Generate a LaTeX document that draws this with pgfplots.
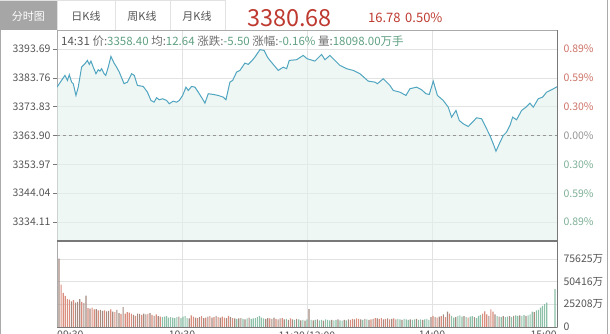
\documentclass[border=0pt]{standalone}
\usepackage{fontspec}
\setmainfont{Noto Sans CJK SC}
\usepackage{pgfplots}
\pgfplotsset{compat=1.18}
\usepackage{pgfplotstable}
\definecolor{pline}{RGB}{80,165,192}
\definecolor{pfill}{RGB}{228,241,236}
\definecolor{gridc}{RGB}{226,226,226}
\definecolor{axc}{RGB}{170,170,170}
\definecolor{axd}{RGB}{120,120,120}
\definecolor{upc}{RGB}{205,115,105}
\definecolor{dnc}{RGB}{125,175,150}
\definecolor{zc}{RGB}{150,150,150}
\definecolor{lab}{RGB}{85,85,85}
\definecolor{vred}{RGB}{218,140,125}
\definecolor{vgreen}{RGB}{140,192,168}
\definecolor{vbrown}{RGB}{165,138,128}
\definecolor{bigred}{RGB}{190,58,48}
\definecolor{tabg}{RGB}{166,166,166}
\definecolor{infog}{RGB}{110,110,110}
\definecolor{infov}{RGB}{95,160,130}

\pgfplotstableread{
m p
0 3380.55
3.8 3384.59
5 3382.86
5.9 3384.83
7 3382.28
7.8 3381.73
9.1 3377.69
10.2 3380.55
11.8 3387.45
13.4 3388.62
14.6 3389.76
15.5 3388.38
16.3 3389.52
17.4 3387.45
18.7 3385.17
19.8 3386.55
20.6 3386.07
21.4 3386.90
22.6 3385.17
23.4 3384.59
24.6 3387.45
25.9 3391.14
27.4 3388.83
28.6 3387.45
29.9 3385.73
32.2 3381.73
33.8 3382.28
35.8 3385.17
37.1 3384.59
38.6 3381.14
41.4 3380.80
43.4 3378.83
45.1 3375.97
46.6 3375.38
47.8 3376.90
49.1 3376.21
50.7 3376.55
52.6 3375.97
53.9 3374.83
55.8 3375.73
57.4 3375.38
58.7 3375.97
60.3 3377.69
61.9 3380.55
63 3379.41
64.6 3380.80
66.2 3380.55
67.8 3378.83
69.8 3376.55
71 3375.04
72.6 3378.28
75 3378.04
77.4 3377.69
79.8 3377.11
81.1 3376.21
83 3382.28
84.3 3382.86
86.2 3385.73
87.8 3386.31
90.2 3388.83
91.8 3388.38
93.4 3389.52
95 3390.90
97.4 3393.45
99.4 3393.21
101 3390.90
102.2 3389.76
104.6 3387.69
106.2 3386.31
108.6 3387.45
110.2 3386.90
111.5 3389.76
115 3390.00
118.2 3391.48
120 3390.35
123.8 3389.52
127 3391.83
128.6 3390.00
131 3391.48
133.4 3389.76
135.8 3388.04
139 3386.90
142.2 3386.31
145.4 3385.17
149.4 3382.62
152.6 3382.28
153.8 3381.73
156.6 3383.45
159.8 3381.14
161.4 3379.41
164.6 3378.83
167.5 3377.69
169.4 3380.00
172.6 3380.55
175 3379.66
177.1 3378.28
178.7 3378.04
180.6 3382.62
182.6 3377.69
185.4 3375.97
187.8 3373.66
189.4 3370.21
191.5 3372.52
193.1 3369.07
195 3367.93
197.4 3367.00
200.2 3369.07
201.4 3370.00
203.8 3369.66
206.2 3366.21
207.8 3363.90
209.4 3361.04
210.7 3358.49
212.3 3361.04
214.2 3363.90
215.8 3365.04
217.4 3367.35
218.7 3370.21
220.6 3369.31
223 3372.52
225.1 3373.66
227 3375.04
228.6 3373.66
231 3376.55
233.1 3377.11
235 3378.83
237.4 3379.66
240 3380.68
}\price

\pgfplotstableread{
m v c
0 76000 2
1 47000 0
2 38000 0
3 34500 0
4 31000 0
5 30500 0
6 28500 2
7 30000 0
8 27000 2
9 28000 2
10 31000 2
11 28000 0
12 26500 2
13 35000 2
14 21000 0
15 20500 2
16 21500 0
17 19500 0
18 20000 2
19 18500 0
20 19000 2
21 18000 2
22 18500 0
23 17500 2
24 18000 2
25 19500 0
26 17000 2
27 16500 0
28 19000 2
29 15500 2
30 14500 0
31 22000 2
32 15000 0
33 16500 0
34 16000 0
35 15000 0
36 13500 2
37 12500 0
38 15000 2
39 14500 2
40 13500 0
41 15000 2
42 14000 2
43 14500 0
44 15500 2
45 13500 0
46 12500 2
47 14000 0
48 12000 2
49 11500 0
50 11000 1
51 11500 1
52 12000 1
53 10500 1
54 11000 1
55 10500 1
56 10000 1
57 11000 1
58 11500 2
59 10000 1
60 11500 1
61 12000 1
62 10000 1
63 9500 2
64 13000 0
65 11500 0
66 10500 2
67 10000 0
68 11000 2
69 12000 0
70 10000 2
71 10500 0
72 11500 2
73 12000 0
74 10500 2
75 11000 0
76 12500 2
77 11000 0
78 10500 2
79 11500 0
80 10500 0
81 10000 2
82 12500 0
83 11000 2
84 10000 0
85 9500 2
86 9000 1
87 9500 2
88 10000 2
89 9000 1
90 8500 2
91 9500 1
92 10500 2
93 9000 1
94 9500 1
95 10000 1
96 11000 1
97 12000 1
98 10500 1
99 9500 1
100 9000 2
101 10000 2
102 9500 0
103 9000 2
104 10500 2
105 9000 0
106 8500 2
107 9500 2
108 10000 0
109 8500 2
110 9000 1
111 8000 2
112 9500 0
113 8500 2
114 8000 1
115 9000 2
116 8500 1
117 7500 2
118 8000 1
119 7000 2
120 8500 1
121 20000 2
122 8000 1
123 7500 2
124 8000 1
125 8500 2
126 7500 1
127 8000 1
128 7000 2
129 8500 1
130 8000 1
131 7500 1
132 8000 2
133 7500 1
134 8000 1
135 8500 2
136 7500 1
137 7000 1
138 8000 2
139 7500 1
140 8500 2
141 8000 0
142 9000 0
143 8500 2
144 9500 0
145 9000 0
146 8500 2
147 8000 1
148 9000 2
149 8500 1
150 8000 2
151 8500 0
152 9000 2
153 10000 0
154 9500 2
155 9000 0
156 10000 0
157 8500 2
158 9000 0
159 9500 2
160 8500 0
161 9000 2
162 9500 0
163 8500 2
164 9000 1
165 8500 1
166 8000 2
167 9000 1
168 8500 1
169 8000 1
170 8500 2
171 8000 1
172 8500 1
173 9000 2
174 8000 1
175 8500 1
176 8000 2
177 8500 1
178 9000 1
179 8000 1
180 11000 2
181 12500 0
182 11000 2
183 10500 0
184 11500 2
185 12000 0
186 14000 2
187 11000 0
188 17000 2
189 15000 0
190 12500 1
191 10500 1
192 11000 2
193 12000 1
194 13000 1
195 11500 1
196 12000 2
197 11000 1
198 10500 0
199 11500 1
200 12000 1
201 11000 2
202 10000 1
203 12500 1
204 13500 1
205 15000 0
206 17500 0
207 14000 0
208 12500 2
209 19500 0
210 17000 0
211 14000 2
212 12000 1
213 11500 2
214 11000 1
215 12000 2
216 11000 1
217 11500 1
218 12000 2
219 11000 1
220 12500 2
221 13000 1
222 12500 1
223 13000 2
224 12000 1
225 13500 1
226 12500 2
227 13000 1
228 14000 1
229 17000 1
230 16500 2
231 18500 1
232 19000 1
233 21500 1
234 23500 1
235 25500 1
236 27000 1
240 42000 1
}\vol

\begin{document}
\begin{tikzpicture}[x=1pt,y=1pt]
\useasboundingbox (0,0) rectangle (610,334);
% outer frame
\draw[color=axc, line width=0.8pt] (0.6,0) -- (0.6,334);
\draw[color=axc, line width=0.8pt] (607,0) -- (607,334);
% tabs
\fill[tabg] (0,304) rectangle (57,334);
\draw[color=gridc, line width=0.8pt] (57,304) -- (57,334);
\draw[color=gridc, line width=0.8pt] (115,304) -- (115,334);
\draw[color=gridc, line width=0.8pt] (170,304) -- (170,334);
\draw[color=gridc, line width=0.8pt] (225,304) -- (225,334);
\draw[color=gridc, line width=0.8pt] (0,333.6) -- (225,333.6);
\node[text=white, font=\fontsize{11}{13}\selectfont] at (28.5,318) {分时图};
\node[text=lab, font=\fontsize{11}{13}\selectfont] at (86,318) {日K线};
\node[text=lab, font=\fontsize{11}{13}\selectfont] at (142,318) {周K线};
\node[text=lab, font=\fontsize{11}{13}\selectfont] at (197,318) {月K线};
\node[anchor=west, inner sep=0, text=bigred, font=\fontsize{23.5}{25}\selectfont] at (247,315.5) {3380.68};
\node[anchor=west, inner sep=0, text=bigred, font=\fontsize{13}{15}\selectfont] at (368,316) {16.78\hspace{0.35em}0.50\%};

% price panel
\begin{axis}[
  at={(57pt,93pt)}, anchor=south west, scale only axis,
  width=500pt, height=211pt,
  xmin=0, xmax=240, ymin=3327.57, ymax=3400.23,
  axis line style={draw=axc, line width=0.7pt},
  xtick={60,120,180}, xticklabels={}, xmajorgrids,
  major x tick style={draw=none},
  ytick={3334.11,3344.04,3353.97,3363.90,3373.83,3383.76,3393.69},
  yticklabels={3334.11,3344.04,3353.97,3363.90,3373.83,3383.76,3393.69},
  ymajorgrids,
  grid style={draw=gridc, line width=0.6pt},
  tick align=outside, major tick length=4pt,
  major y tick style={draw=axd, line width=0.6pt},
  ytick pos=left,
  yticklabel style={text=lab, font=\fontsize{10.5}{12}\selectfont, xshift=1pt},
  clip=true,
]
\addplot[draw=none, fill=pfill, fill opacity=0.6] table[x=m,y=p]{\price} \closedcycle;
\addplot[draw=zc, dashed, line width=0.6pt] coordinates {(0,3363.90) (240,3363.90)};
\addplot[draw=pline, line width=1pt] table[x=m,y=p]{\price};
\end{axis}

% right percentage labels
\begin{axis}[
  at={(57pt,93pt)}, anchor=south west, scale only axis,
  width=500pt, height=211pt,
  xmin=0, xmax=240, ymin=3327.57, ymax=3400.23,
  axis x line=none, axis y line*=right,
  axis line style={draw=axd, line width=0.8pt},
  ytick={3334.11,3344.04,3353.97,3363.90,3373.83,3383.76,3393.69},
  yticklabels={\textcolor{dnc}{0.89\%},\textcolor{dnc}{0.59\%},\textcolor{dnc}{0.30\%},\textcolor{zc}{0.00\%},\textcolor{upc}{0.30\%},\textcolor{upc}{0.59\%},\textcolor{upc}{0.89\%}},
  major tick length=0pt,
  yticklabel style={anchor=west, font=\fontsize{10.5}{12}\selectfont, xshift=3pt},
]
\addplot[draw=none] coordinates {(0,3363.90)};
\end{axis}
\draw[color=axc, line width=0.8pt] (57,304) -- (557,304);

% info line
\node[anchor=west, inner sep=0, font=\fontsize{11.5}{13}\selectfont] at (61,293) {\textcolor{lab}{14:31} \textcolor{infog}{价:}\textcolor{infov}{3358.40} \textcolor{infog}{均:}\textcolor{infov}{12.64} \textcolor{infog}{涨跌:}\textcolor{infov}{-5.50} \textcolor{infog}{涨幅:}\textcolor{infov}{-0.16\%} \textcolor{infog}{量:}\textcolor{infov}{18098.00万手}};

% volume panel
\begin{axis}[
  at={(57pt,7pt)}, anchor=south west, scale only axis,
  width=500pt, height=86pt,
  xmin=-1, xmax=241, ymin=0, ymax=95600,
  axis line style={draw=axc, line width=0.7pt},
  xtick={59.5,120,180.5}, xticklabels={}, xmajorgrids,
  major x tick style={draw=none},
  ytick={0,25208,50416,75625},
  yticklabels={0,25208万,50416万,75625万},
  ymajorgrids,
  grid style={draw=gridc, line width=0.6pt},
  major tick length=0pt,
  yticklabel pos=right,
  yticklabel style={anchor=west, text=lab, font=\fontsize{10.5}{12}\selectfont, xshift=3pt},
  scaled y ticks=false,
]
\addplot[ybar, bar width=1.15pt, bar shift=0pt, fill=vred, draw=none,
  restrict expr to domain={\thisrow{c}}{-0.5:0.5}] table[x=m,y=v]{\vol};
\addplot[ybar, bar width=1.15pt, bar shift=0pt, fill=vgreen, draw=none,
  restrict expr to domain={\thisrow{c}}{0.5:1.5}] table[x=m,y=v]{\vol};
\addplot[ybar, bar width=1.15pt, bar shift=0pt, fill=vbrown, draw=none,
  restrict expr to domain={\thisrow{c}}{1.5:2.5}] table[x=m,y=v]{\vol};
\end{axis}
\draw[color=axd, line width=1.2pt] (57,93) -- (557,93);
\draw[color=axd, line width=0.8pt] (557,7) -- (557,304);
\draw[color=axd, line width=0.8pt] (57,7) -- (557,7);

% time labels (cut by the lower edge, as in the reference)
\node[anchor=north west, inner sep=0, text=lab, font=\fontsize{10.5}{12}\selectfont] at (57,3) {09:30};
\node[anchor=north, inner sep=0, text=lab, font=\fontsize{10.5}{12}\selectfont] at (182,3) {10:30};
\node[anchor=north, inner sep=0, text=lab, font=\fontsize{10.5}{12}\selectfont] at (307,3) {11:30/13:00};
\node[anchor=north, inner sep=0, text=lab, font=\fontsize{10.5}{12}\selectfont] at (432,3) {14:00};
\node[anchor=north east, inner sep=0, text=lab, font=\fontsize{10.5}{12}\selectfont] at (557,3) {15:00};
\end{tikzpicture}
\end{document}
